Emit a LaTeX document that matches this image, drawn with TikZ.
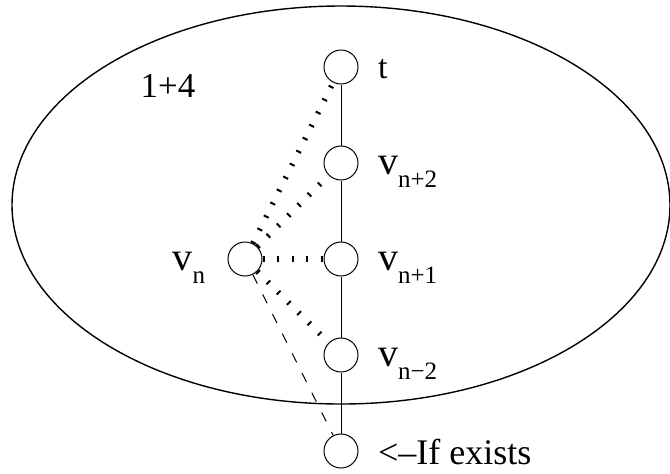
\documentclass[tikz,border=0pt]{standalone}
\usepackage{fontspec}
\setmainfont{Liberation Serif}
\usetikzlibrary{positioning}

\newcommand\vsub[1]{v\raisebox{-6.5pt}{\fontsize{12.5}{14}\selectfont #1}}

\begin{document}
\begin{tikzpicture}[
  x=0.5pt,y=-0.5pt,
  line width=0.5pt,
  vertex/.style={circle,draw,minimum size=17pt,inner sep=0pt},
  lbl/.style={anchor=base west,inner sep=0pt,yshift=-5.75pt},
  big/.style={font=\fontsize{20}{24}\selectfont},
  small/.style={font=\fontsize{18}{21}\selectfont},
  hint/.style={line width=2.75pt,dash pattern=on 1pt off 6.25pt},
  maybe/.style={dash pattern=on 5pt off 6pt},
  node distance=30.5pt
]
  \useasboundingbox (0,0) rectangle (670,473);
  \draw[line width=0.7pt] (341,205) ellipse [x radius=329, y radius=199];

  \node[vertex] at (341,67) (t) {};
  \node[vertex,below=of t] (vplustwo) {};
  \node[vertex,below=of vplustwo] (vplusone) {};
  \node[vertex,below=of vplusone] (vminustwo) {};
  \node[vertex,below=of vminustwo] (ifex) {};
  \node[vertex,left=of vplusone] (vn) {};

  \draw (t) -- (vplustwo);
  \draw (vplustwo) -- (vplusone);
  \draw (vplusone) -- (vminustwo);
  \draw (vminustwo) -- (ifex);

  \draw[hint] (vn) -- (t);
  \draw[hint] (vn) -- (vplustwo);
  \draw[hint] (vn) -- (vplusone);
  \draw[hint] (vn) -- (vminustwo);
  \draw[maybe] (vn) -- (ifex);

  \node[font=\fontsize{17.5}{21}\selectfont,anchor=base] at (168,97) (count) {1+4};
  \node[lbl,font=\fontsize{17}{20}\selectfont,right=9.5pt of t,anchor=base west] (tlabel) {t};
  \node[lbl,big,right=9.5pt of vplustwo,anchor=base west] (vplustwolabel) {\vsub{n+2}};
  \node[lbl,big,right=9.5pt of vplusone,anchor=base west] (vplusonelabel) {\vsub{n+1}};
  \node[lbl,big,right=9.5pt of vminustwo,anchor=base west] (vminustwolabel) {\vsub{n−2}};
  \node[lbl,small,right=9.5pt of ifex,anchor=base west,yshift=-1pt] (ifexlabel) {<–If exists};
  \node[lbl,big,left=11pt of vn,anchor=base east] (vnlabel) {\vsub{n}};
\end{tikzpicture}
\end{document}
